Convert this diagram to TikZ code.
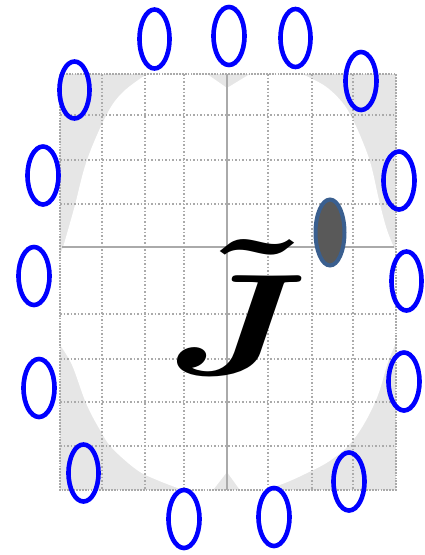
\documentclass[tikz,border=0pt]{standalone}
\usepackage{amsmath,bm}
\definecolor{gridgray}{RGB}{170,170,170}
\definecolor{axisgray}{RGB}{170,170,170}
\definecolor{bggray}{RGB}{230,230,230}
\definecolor{ringblue}{RGB}{0,0,255}
\definecolor{spotfill}{RGB}{89,89,89}
\definecolor{spotedge}{RGB}{58,95,143}
\begin{document}
\begin{tikzpicture}[x=1pt,y=-1pt,
  ring/.style={draw=ringblue, line width=4.6pt},
  spot/.style={fill=spotfill, draw=spotedge, line width=4pt},
  gridline/.style={draw=gridgray, line width=1.5pt, dash pattern=on 1.5pt off 2pt},
  gridedge/.style={draw=gridgray, line width=2.2pt, dash pattern=on 1.8pt off 1.1pt},
  axisline/.style={draw=axisgray, line width=1.5pt}]
\useasboundingbox (0,0) rectangle (424,555);
\fill[white] (0,0) rectangle (424,555);
% shaded corners
\fill[bggray] (60,74) rectangle (396,490);
\fill[white] (147,74) -- (207,74) -- (227,88) -- (250,74) -- (302,74)
  -- plot[smooth, tension=0.6] coordinates {(302,74) (325,86) (342,102) (352,118) (362,140) (371,165) (379,200) (387,230) (396,252)}
  -- (396,343)
  -- plot[smooth, tension=0.6] coordinates {(396,343) (388,362) (378,395) (364,424) (348,446) (328,462) (305,474) (285,483) (265,490)}
  -- (240,490) -- (227,472) -- (213,490) -- (183,490)
  -- plot[smooth, tension=0.6] coordinates {(183,490) (157,480) (137,470) (112,448) (100,430) (86,403) (72,365) (60,345)}
  -- (60,254)
  -- plot[smooth, tension=0.6] coordinates {(60,254) (63,247) (68,230) (75,205) (87,160) (107,114) (123,92) (147,74)}
  -- cycle;
% grid
\foreach \gx in {102,145,184,268,312,353}
  \draw[gridline] (\gx,74) -- (\gx,490);
\foreach \gy in {115,160,204,314,359,402,446}
  \draw[gridline] (60,\gy) -- (396,\gy);
\draw[gridedge] (60,74) rectangle (396,490);
\draw[axisline] (227,74) -- (227,490);
\draw[axisline] (62,247) -- (394,247);
% text
\node[inner sep=0pt, anchor=center, xscale=19.5, yscale=14.4] (jt) at (258,307)
  {$\boldsymbol{\tilde{{J}\mkern3.7mu}}$};
% source spot
\draw[spot] (330,232.5) ellipse [x radius=14.5, y radius=33];
% rings
\draw[ring] (74.5,90) ellipse [x radius=15, y radius=28.5];
\draw[ring] (154.5,39) ellipse [x radius=15, y radius=29.5];
\draw[ring] (229,36) ellipse [x radius=15.5, y radius=29];
\draw[ring] (295.5,38) ellipse [x radius=15, y radius=29];
\draw[ring] (361,81) ellipse [x radius=15.5, y radius=29];
\draw[ring] (43,175.5) ellipse [x radius=15.5, y radius=29];
\draw[ring] (34,276) ellipse [x radius=15.5, y radius=29];
\draw[ring] (39,388) ellipse [x radius=15.5, y radius=29];
\draw[ring] (399,180.5) ellipse [x radius=15.5, y radius=29];
\draw[ring] (406.5,281) ellipse [x radius=15, y radius=29.5];
\draw[ring] (404,381.5) ellipse [x radius=15.5, y radius=29];
\draw[ring] (83.5,473) ellipse [x radius=15, y radius=28.5];
\draw[ring] (184,519) ellipse [x radius=15.5, y radius=29];
\draw[ring] (274,517) ellipse [x radius=15.5, y radius=29];
\draw[ring] (349,481.5) ellipse [x radius=15.5, y radius=29];
\end{tikzpicture}
\end{document}
